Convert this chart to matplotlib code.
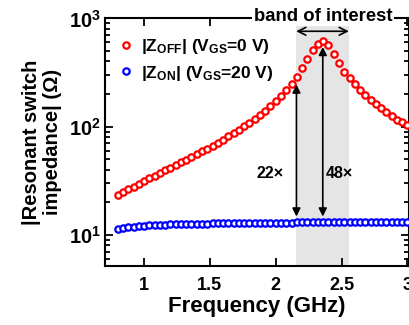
import matplotlib
matplotlib.use('Agg')
import matplotlib.pyplot as plt
from matplotlib.ticker import LogLocator, NullFormatter, FixedLocator

# bold sans theme, like the figure
plt.rcParams.update({'font.family': ['Liberation Sans', 'DejaVu Sans'],
                     'font.weight': 'bold',
                     'mathtext.fontset': 'custom',
                     'mathtext.rm': 'Liberation Sans:bold',
                     'mathtext.it': 'Liberation Sans:bold',
                     'mathtext.bf': 'Liberation Sans:bold',
                     'axes.linewidth': 1.5})

# frequency points (GHz)
freq = [0.80, 0.84, 0.88, 0.92, 0.96, 1.00, 1.04, 1.08, 1.12, 1.16,
        1.20, 1.24, 1.28, 1.32, 1.36, 1.40, 1.44, 1.48, 1.52, 1.56,
        1.60, 1.64, 1.68, 1.72, 1.76, 1.80, 1.84, 1.88, 1.92, 1.96,
        2.00, 2.04, 2.08, 2.12, 2.16, 2.20, 2.24, 2.28, 2.32, 2.36,
        2.40, 2.44, 2.48, 2.52, 2.56, 2.60, 2.64, 2.68, 2.72, 2.76,
        2.80, 2.84, 2.88, 2.92, 2.96, 3.00]

# |Z_OFF| (ohm)
z_off = [23.3, 24.8, 26.4, 28.0, 29.7, 31.4, 33.3, 35.2, 37.3, 39.4,
         41.7, 44.1, 46.7, 49.5, 52.4, 55.6, 59.0, 62.7, 66.7, 71.1,
         76.0, 81.3, 87.2, 93.8, 101, 109, 118, 128, 140, 154,
         171, 192, 217, 246, 285, 345, 420, 505, 585, 614,
         566, 470, 389, 321, 282, 250, 220, 198, 178, 162,
         149, 138, 126, 116, 110, 104]

# |Z_ON| (ohm)
z_on = [11.3, 11.6, 11.8, 11.95, 12.05, 12.15, 12.25, 12.32, 12.4, 12.45,
        12.5, 12.55, 12.6, 12.63, 12.67, 12.7, 12.73, 12.76, 12.8, 12.82,
        12.84, 12.86, 12.88, 12.9, 12.92, 12.93, 12.94, 12.95, 12.96, 12.97,
        13.0, 13.0, 13.02, 13.03, 13.04, 13.05, 13.06, 13.07, 13.08, 13.09,
        13.1, 13.1, 13.1, 13.1, 13.1, 13.1, 13.1, 13.1, 13.1, 13.1,
        13.1, 13.1, 13.1, 13.1, 13.1, 13.1]

band = (2.155, 2.555)
ratio_22 = (2.157, 14.8, 245)
ratio_48 = (2.357, 14.8, 545)

fig = plt.figure(figsize=(4.1, 3.25), dpi=100)
ax = fig.add_axes([0.256, 0.1815, 0.741, 0.762])

ax.axvspan(band[0], band[1], color='#e5e5e5', lw=0, zorder=0)

mk = dict(ls='none', marker='o', ms=4.6, mew=1.6, mfc='white')
ax.plot(freq, z_off, mec='#ff0000', label=r'|Z$_{\mathrm{OFF}}$| (V$_{\mathrm{GS}}$=0 V)', zorder=3, **mk)
ax.plot(freq, z_on, mec='#0000ff', label=r'|Z$_{\mathrm{ON}}$| (V$_{\mathrm{GS}}$=20 V)', zorder=3, **mk)

ax.set_yscale('log')
ax.set_xlim(0.703, 3.01)
ax.set_ylim(5.17, 1000)
ax.xaxis.set_major_locator(FixedLocator([1, 1.5, 2, 2.5, 3]))
ax.set_xticklabels(['1', '1.5', '2', '2.5', '3'])
ax.yaxis.set_minor_locator(LogLocator(base=10, subs=range(2, 10)))
ax.yaxis.set_minor_formatter(NullFormatter())
ax.tick_params(which='both', direction='in', top=True, right=True, width=1.3)
ax.tick_params(which='major', length=6)
ax.tick_params(which='minor', length=3.5)
ax.tick_params(axis='x', pad=8, labelsize=13)
ax.tick_params(axis='y', pad=3, labelsize=14.5)

ax.set_xlabel('Frequency (GHz)', fontsize=16, fontweight='bold', labelpad=1)
ax.set_ylabel('|Resonant switch\nimpedance| (\u03a9)', fontsize=14.5, fontweight='bold',
              labelpad=5, linespacing=1.12)

ax.legend(loc='upper left', frameon=False, fontsize=12.5, handletextpad=0.35,
          handlelength=1.0, borderaxespad=0.3, labelspacing=0.45,
          bbox_to_anchor=(0.0, 0.975))

# ratio arrows
for x, lo, hi in [ratio_22, ratio_48]:
    ax.annotate('', xy=(x, hi), xytext=(x, lo),
                arrowprops=dict(arrowstyle='<|-|>', color='black', lw=1.2,
                                mutation_scale=12, shrinkA=0, shrinkB=0))
ax.text(1.96, 36.7, '22\u00d7', ha='center', va='center', fontsize=11.5, fontweight='bold')
ax.text(2.48, 36.7, '48\u00d7', ha='center', va='center', fontsize=11.5, fontweight='bold')

# band of interest
ax.annotate('', xy=(band[1], 760), xytext=(band[0], 760),
            arrowprops=dict(arrowstyle='<->', color='black', lw=1.2,
                            mutation_scale=14, shrinkA=0, shrinkB=0))
ax.text(2.36, 955, 'band of interest', ha='center', va='baseline', fontsize=13.3,
        fontweight='bold', bbox=dict(fc='white', ec='none', pad=1), clip_on=False, zorder=5)

fig.savefig('out.png', dpi=100)
